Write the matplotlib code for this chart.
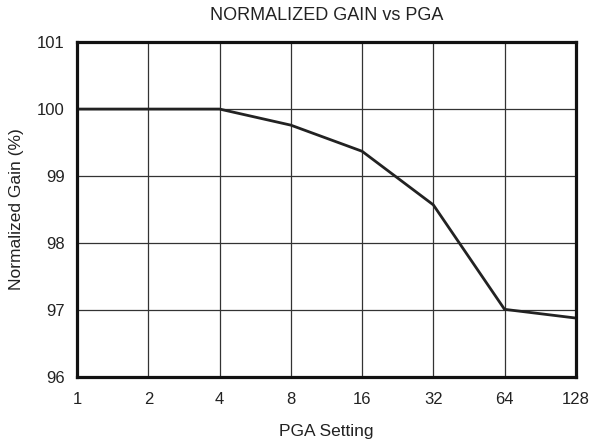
import matplotlib
matplotlib.use('Agg')
import matplotlib.pyplot as plt
import numpy as np

plt.rcParams['font.family'] = ['Liberation Sans', 'DejaVu Sans']

# PGA settings (plotted at equal spacing) and normalized gain in %
pga = ['1', '2', '4', '8', '16', '32', '64', '128']
gain = [100.0, 100.0, 100.0, 99.76, 99.37, 98.57, 97.01, 96.88]
yticks = [96, 97, 98, 99, 100, 101]

x = np.arange(len(pga))

fig = plt.figure(figsize=(5.93, 4.43), dpi=100)
ax = fig.add_axes([0.130, 0.149, 0.841, 0.756])

ax.plot(x, gain, color='#222222', lw=2.0, zorder=3)

ax.set_xlim(x[0], x[-1])
ax.set_ylim(96, 101)
ax.set_xticks(x)
ax.set_xticklabels(pga)
ax.set_yticks(yticks)
ax.grid(True, color='#333333', lw=0.9)
ax.tick_params(length=0, labelsize=12, colors='#222222')
ax.tick_params(axis='x', pad=11)
ax.tick_params(axis='y', pad=9)

for s in ax.spines.values():
    s.set_linewidth(2.3)
    s.set_color('#111111')
    s.set_zorder(4)

ax.set_title('NORMALIZED GAIN vs PGA', fontsize=13, pad=16, color='#222222')
ax.set_xlabel('PGA Setting', fontsize=12.5, labelpad=12, color='#222222')
ax.set_ylabel('Normalized Gain (%)', fontsize=12.5, labelpad=9, color='#222222')

fig.savefig('out.png', dpi=100)
